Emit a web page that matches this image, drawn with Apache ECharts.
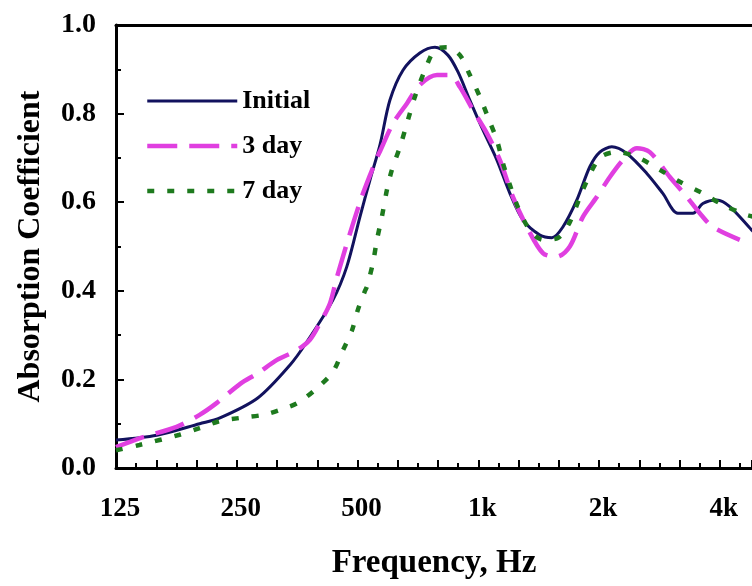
<!DOCTYPE html>
<html><head><meta charset="utf-8">
<script src="https://cdn.jsdelivr.net/npm/echarts@6/dist/echarts.min.js"></script>
<style>html,body{margin:0;padding:0;background:#fff}#c{width:752px;height:586px}</style>
</head><body><div id="c"></div>
<script>
// Frequencies (Hz) and absorption coefficients
const initialFreq = [125,158,202,227,282,339,374,434,470,507,537,569,602,649,715,780,840,890,953,1027,1113,1199,1292,1424,1526,1625,1761,1897,2009,2152,2346,2631,2884,3144,3426,3629,3932,4236,4806,5033];
const initialVal  = [0.063,0.074,0.10,0.113,0.158,0.232,0.285,0.379,0.454,0.567,0.65,0.73,0.83,0.898,0.937,0.95,0.932,0.894,0.83,0.763,0.695,0.62,0.56,0.526,0.52,0.544,0.605,0.68,0.713,0.725,0.71,0.665,0.62,0.575,0.575,0.597,0.605,0.59,0.537,0.52];

const day3Freq = [125,143,177,202,223,255,282,315,353,380,403,427,444,479,516,559,569,613,664,715,789,850,900,970,1050,1132,1220,1322,1449,1570,1691,1823,1975,2128,2293,2485,2677,3003,3310,3566,3843,4486];
const day3Val  = [0.047,0.067,0.093,0.12,0.147,0.19,0.214,0.244,0.266,0.289,0.327,0.372,0.43,0.53,0.62,0.70,0.715,0.778,0.823,0.865,0.887,0.887,0.86,0.808,0.756,0.695,0.612,0.544,0.485,0.477,0.50,0.567,0.612,0.657,0.695,0.722,0.713,0.657,0.612,0.575,0.544,0.515];

const day7Freq = [125,143,180,202,227,255,291,320,355,396,434,460,484,501,522,528,546,559,575,592,609,638,668,695,736,780,835,900,953,1009,1057,1113,1152,1199,1255,1345,1449,1579,1691,1823,2009,2215,2485,2835,3180,3629,4070,4671,5033];
const day7Val  = [0.04,0.052,0.075,0.09,0.106,0.113,0.12,0.131,0.147,0.18,0.217,0.266,0.31,0.357,0.40,0.41,0.462,0.515,0.567,0.628,0.673,0.725,0.786,0.838,0.898,0.944,0.95,0.932,0.887,0.838,0.792,0.74,0.688,0.639,0.589,0.537,0.515,0.519,0.555,0.628,0.70,0.713,0.702,0.673,0.646,0.62,0.594,0.571,0.565];

const seriesNames = ['Initial', '3 day', '7 day'];
const xTickLabels = {0:'125', 3:'250', 6:'500', 9:'1k', 12:'2k', 15:'4k'}; // in third-octave steps from 125 Hz
const yTickLabels = ['0.0','0.2','0.4','0.6','0.8','1.0'];

// x position expressed in third-octave steps above 125 Hz
function pts(f, v) { return f.map((fr, i) => [3 * Math.log2(fr / 125), v[i]]); }

const FONT = '"Liberation Serif", "Times New Roman", serif';
const X_MAX = 15.8;
const chart = echarts.init(document.getElementById('c'), null, {renderer: 'canvas'});
chart.setOption({
  animation: false,
  backgroundColor: '#ffffff',
  grid: { left: 116, top: 25, bottom: 118, right: 0 },
  legend: {
    orient: 'vertical', left: 145, top: 88, padding: 0, itemWidth: 90, itemHeight: 14, itemGap: 19,
    data: seriesNames,
    itemStyle: { opacity: 0, color: 'rgba(0,0,0,0)', borderColor: 'rgba(0,0,0,0)', borderWidth: 0 },
    lineStyle: { width: 'inherit', type: 'inherit' },
    textStyle: { fontFamily: FONT, fontWeight: 'bold', fontSize: 26, color: '#000' }
  },
  xAxis: [{
    type: 'value', min: 0, max: X_MAX, interval: 1,
    name: 'Frequency, Hz', nameLocation: 'middle', nameGap: 79,
    nameTextStyle: { fontFamily: FONT, fontWeight: 'bold', fontSize: 33, color: '#000' },
    axisLine: { show: true, lineStyle: { color: '#000', width: 3 } },
    axisTick: { show: true, inside: true, length: 8, lineStyle: { color: '#000', width: 2 } },
    minorTick: { show: true, splitNumber: 2, length: 5, lineStyle: { color: '#000', width: 2 } },
    splitLine: { show: false },
    axisLabel: {
      margin: 28, padding: [0, 0, 0, 8], showMaxLabel: false,
      fontFamily: FONT, fontWeight: 'bold', fontSize: 27, color: '#000',
      formatter: v => { const r = Math.round(v); return (Math.abs(v - r) < 1e-6 && xTickLabels[r] !== undefined) ? xTickLabels[r] : ''; }
    }
  }, {
    type: 'value', position: 'top', min: 0, max: X_MAX,
    axisLine: { show: true, lineStyle: { color: '#000', width: 3 } },
    axisTick: { show: false }, axisLabel: { show: false }, splitLine: { show: false }
  }],
  yAxis: {
    type: 'value', min: 0, max: 1, interval: 0.2,
    name: 'Absorption Coefficient', nameLocation: 'middle', nameGap: 69,
    nameTextStyle: { fontFamily: FONT, fontWeight: 'bold', fontSize: 32, color: '#000' },
    axisLine: { show: true, lineStyle: { color: '#000', width: 3 } },
    axisTick: { show: true, inside: true, length: 8, lineStyle: { color: '#000', width: 2 } },
    minorTick: { show: true, splitNumber: 2, length: 5, lineStyle: { color: '#000', width: 2 } },
    splitLine: { show: false },
    axisLabel: {
      margin: 20, fontFamily: FONT, fontWeight: 'bold', fontSize: 28, color: '#000',
      formatter: v => yTickLabels[Math.round(v * 5)]
    }
  },
  series: [
    { name: seriesNames[0], type: 'line', symbol: 'none', smooth: 0.3, data: pts(initialFreq, initialVal),
      lineStyle: { color: '#12125E', width: 3 }, itemStyle: { color: '#12125E' } },
    { name: seriesNames[1], type: 'line', symbol: 'none', smooth: 0.3, data: pts(day3Freq, day3Val),
      lineStyle: { color: '#E03FE0', width: 4.5, type: [30, 12] }, itemStyle: { color: '#E03FE0' } },
    { name: seriesNames[2], type: 'line', symbol: 'none', smooth: 0.3, data: pts(day7Freq, day7Val),
      lineStyle: { color: '#1E7A1E', width: 4.5, type: [7, 13] }, itemStyle: { color: '#1E7A1E' } }
  ]
});
</script>
</body></html>
